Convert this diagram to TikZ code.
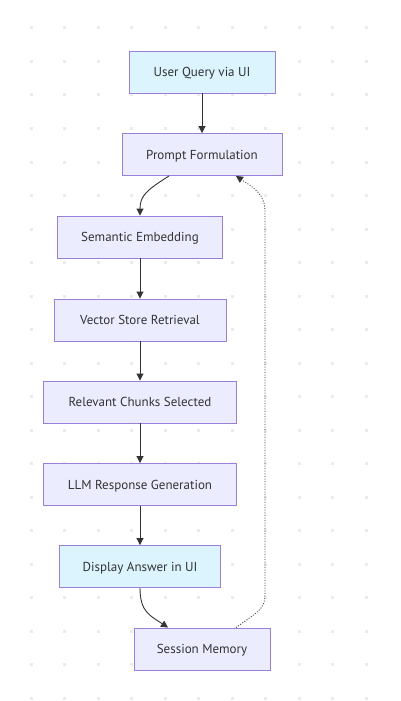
\documentclass[tikz,border=0pt]{standalone}
\usepackage{fontspec}
\setmainfont{PT Sans}
\usetikzlibrary{arrows.meta,calc}
\definecolor{boxborder}{HTML}{9A80D8}
\definecolor{boxfill}{HTML}{ECECFF}
\definecolor{uifill}{HTML}{DBF4FD}
\definecolor{inkgray}{HTML}{333333}
\definecolor{dotgray}{HTML}{EBEBEB}
\tikzset{
  flowbox/.style={draw=boxborder, fill=boxfill, line width=0.9bp, minimum height=42bp, inner sep=0pt, text height=9.5bp, text depth=0.5bp, text=inkgray, font=\fontsize{13bp}{15bp}\selectfont},
  uibox/.style={flowbox, fill=uifill},
  link/.style={draw=inkgray, line width=0.9bp, -{Triangle[length=7bp,width=7bp]}},
  memlink/.style={link, dash pattern=on 1bp off 1.6bp, line width=0.8bp}
}
\begin{document}
\begin{tikzpicture}[x=1bp,y=-1bp]
\useasboundingbox (0,0) rectangle (400,701);
\fill[white] (0,0) rectangle (400,701);
\foreach \i in {0,...,10}{
  \foreach \j in {0,...,20}{
    \fill[dotgray] ({31+33.5*\i-1.5},{28+33.5*\j-1.5}) rectangle +(3,3);
  }
}
\node[uibox, minimum width=146bp] (n1) at (202,72) {User Query via UI};
\node[flowbox, minimum width=160bp] (n2) at (202,154.5) {Prompt Formulation};
\node[flowbox, minimum width=165bp] (n3) at (140,237) {Semantic Embedding};
\node[flowbox, minimum width=172bp] (n4) at (140,320) {Vector Store Retrieval};
\node[flowbox, minimum width=193bp] (n5) at (140,402) {Relevant Chunks Selected};
\node[flowbox, minimum width=193bp] (n6) at (140,484.5) {LLM Response Generation};
\node[uibox, minimum width=161bp] (n7) at (140,566.5) {Display Answer in UI};
\node[flowbox, minimum width=136bp] (n8) at (202,649) {Session Memory};

\draw[link] (n1) -- (n2);
\draw[link] ([xshift=-33bp]n2.south) .. controls +(-22,14) and +(0,-20) .. (n3.north);
\draw[link] (n3) -- (n4);
\draw[link] (n4) -- (n5);
\draw[link] (n5) -- (n6);
\draw[link] (n6) -- (n7);
\draw[link] (n7.south) .. controls +(0,24) and +(-18,-12) .. ([xshift=-34bp]n8.north);
\coordinate (mtop) at (265,212);
\coordinate (mbot) at (265,595);
\draw[memlink] ([xshift=34bp]n8.north) .. controls +(22,-16) and +(0,14) .. (mbot) -- (mtop) .. controls +(0,-18) and +(18,12) .. ([xshift=34bp]n2.south);
\end{tikzpicture}
\end{document}
